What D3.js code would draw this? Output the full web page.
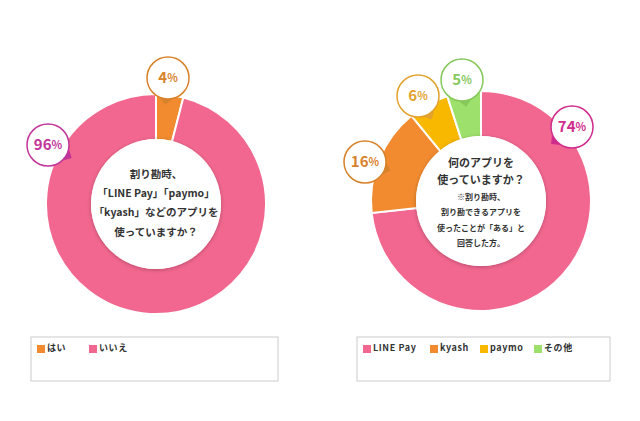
<!DOCTYPE html><html><head><meta charset="utf-8">
<script src="https://cdn.jsdelivr.net/npm/d3@7"></script>
<style>body{margin:0;background:#fff}svg{display:block}text{font-family:"Noto Sans CJK JP",sans-serif}</style></head><body>
<svg id="c" width="640" height="421"></svg>
<script>
const leftCats=["はい","いいえ"], leftVals=[4,96];
const rightCats=["LINE Pay","kyash","paymo","その他"], rightVals=[74,16,6,5];
const leftColors=["#F28B30","#F2678F"], rightColors=["#F2678F","#F28B30","#F8B800","#9EE06C"];
const leftLabelColors=["#D8832C","#C2369A"], rightLabelColors=["#D02C8E","#D8832C","#E2A22E","#86C85A"];
const leftLabelPos=[[168,78],[48,145]], rightLabelPos=[[572,127],[365,162],[418,96],[462,80]];
const leftCenter=["割り勘時、","「LINE Pay」「paymo」","「kyash」などのアプリを","使っていますか？"];
const rightCenter=["何のアプリを","使っていますか？","※割り勘時、","割り勘できるアプリを","使ったことが「ある」と","回答した方。"];
const leftLineY=[-29,-10,9,29], leftLineSize=[10.5,10.5,10.5,10.5];
const rightLineY=[-37,-20,-3,12,28,43], rightLineSize=[11,11,8,8,8,8];
const svg=d3.select("#c");
const defs=svg.append("defs");
const f=defs.append("filter").attr("id","sh").attr("x","-20%").attr("y","-20%").attr("width","140%").attr("height","140%");
f.append("feDropShadow").attr("dx",0).attr("dy",1).attr("stdDeviation",2).attr("flood-opacity",0.25);
function donut(cx,cy,vals,colors,labelColors,pos,center,ly0,ls){
  const g=svg.append("g").attr("transform",`translate(${cx},${cy})`);
  const pie=d3.pie().sort(null).value(d=>d)(vals);
  const arc=d3.arc().innerRadius(64).outerRadius(110);
  g.selectAll("path.s").data(pie).join("path").attr("d",arc).attr("fill",(d,i)=>colors[i]).attr("stroke","#fff").attr("stroke-width",2);
  g.append("circle").attr("r",65).attr("fill","#fff").attr("filter","url(#sh)");
  center.forEach((t,i)=>{
    g.append("text").attr("x",0).attr("y",ly0[i]).attr("text-anchor","middle").attr("dominant-baseline","middle")
     .attr("font-size",ls[i]).attr("font-weight","bold").attr("fill","#333").text(t);
  });
  pie.forEach((d,i)=>{
    const [px,py]=pos[i];
    const lx=px-cx, ly=py-cy;
    const ang=Math.atan2(-ly,-lx);
    const r=21;
    const tx=lx+Math.cos(ang)*(r+6), ty=ly+Math.sin(ang)*(r+6);
    const b=g.append("g");
    b.append("path").attr("d",`M${lx+Math.cos(ang+0.35)*r},${ly+Math.sin(ang+0.35)*r}L${tx},${ty}L${lx+Math.cos(ang-0.35)*r},${ly+Math.sin(ang-0.35)*r}Z`).attr("fill",labelColors[i]);
    b.append("circle").attr("cx",lx).attr("cy",ly).attr("r",r).attr("fill","#fff").attr("stroke",labelColors[i]).attr("stroke-width",1.5);
    const tt=b.append("text").attr("x",lx).attr("y",ly+1).attr("text-anchor","middle").attr("dominant-baseline","middle").attr("fill",labelColors[i]).attr("font-weight","bold").attr("font-family","Lato, sans-serif");
    tt.append("tspan").attr("font-size",15).text(d.data);
    tt.append("tspan").attr("font-size",11).text("%");
  });
}
donut(156,204,leftVals,leftColors,leftLabelColors,leftLabelPos,leftCenter,leftLineY,leftLineSize);
donut(481,201,rightVals,rightColors,rightLabelColors,rightLabelPos,rightCenter,rightLineY,rightLineSize);
function legend(x,y,w,cats,colors,gaps){
  svg.append("rect").attr("x",x).attr("y",y).attr("width",w).attr("height",44).attr("fill","#fff").attr("stroke","#ccc");
  let cx=x+6;
  cats.forEach((c,i)=>{
    svg.append("rect").attr("x",cx).attr("y",y+8).attr("width",8).attr("height",8).attr("fill",colors[i]);
    svg.append("text").attr("x",cx+10).attr("y",y+12).attr("dominant-baseline","middle").attr("font-size",9).attr("font-weight","bold").attr("fill","#333").attr("letter-spacing",0.6).text(c);
    cx+=gaps[i];
  });
}
legend(31,337,247,leftCats,leftColors,[52,40]);
legend(357,337,253,rightCats,rightColors,[67,50,54,50]);
</script></body></html>
